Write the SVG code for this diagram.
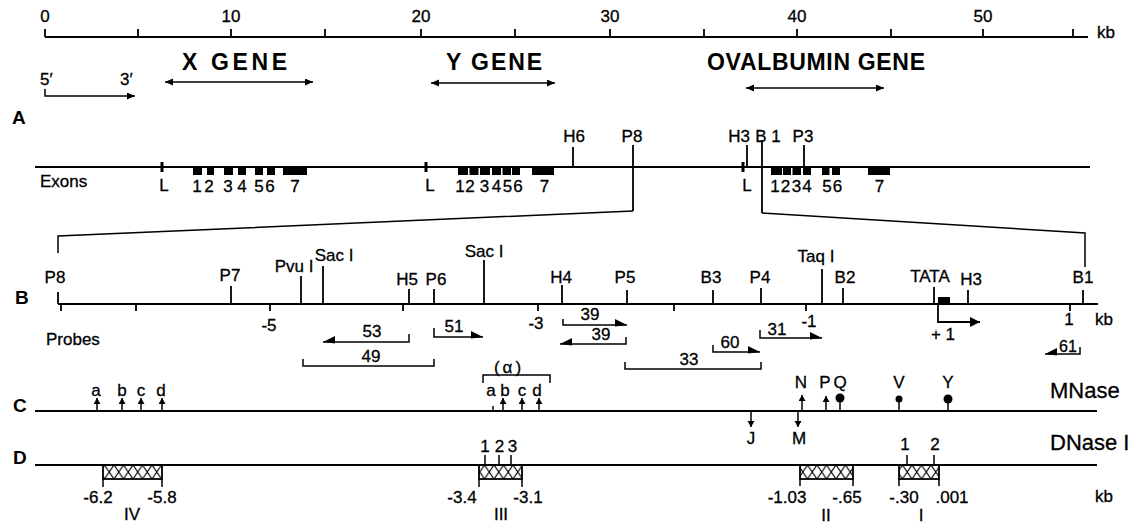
<svg xmlns="http://www.w3.org/2000/svg" width="1144" height="524" viewBox="0 0 1144 524">
<style>
.ln{stroke:#000;stroke-width:2;fill:none}
.tk{stroke:#000;stroke-width:1.8;fill:none}
.br{stroke:#000;stroke-width:1.5;fill:none}
.lt{stroke:#000;stroke-width:3;fill:none}
.t{font-family:"Liberation Sans",Arial,Helvetica,sans-serif;font-size:17px;fill:#000;stroke:#000;stroke-width:0.3}
.c{text-anchor:middle}
.pl{font-size:19px;font-weight:bold;stroke-width:0}
.g{font-size:23px;font-weight:bold;stroke-width:0}
.big{font-size:22px}
.ex{fill:#000}
.hb{fill:url(#hatch);stroke:#000;stroke-width:1.8}
</style>
<defs>
<marker id="ah" markerUnits="userSpaceOnUse" markerWidth="10" markerHeight="8" refX="8" refY="3.5" orient="auto-start-reverse">
<path d="M0,0 L8,3.5 L0,7 z" fill="#000"/>
</marker>
<marker id="pr" markerUnits="userSpaceOnUse" markerWidth="14" markerHeight="10" refX="12" refY="6" orient="0">
<path d="M0,0 L12,6 L0,7.5 z" fill="#000"/>
</marker>
<marker id="pl" markerUnits="userSpaceOnUse" markerWidth="14" markerHeight="10" refX="0" refY="6" orient="0">
<path d="M12,0 L0,6 L12,7.5 z" fill="#000"/>
</marker>
<marker id="sa" markerUnits="userSpaceOnUse" markerWidth="8" markerHeight="8" refX="6" refY="3.5" orient="auto">
<path d="M0,0 L6,3.5 L0,7 z" fill="#000"/>
</marker>
<marker id="ta" markerUnits="userSpaceOnUse" markerWidth="12" markerHeight="12" refX="10" refY="5" orient="auto">
<path d="M0,0 L10,5 L0,10 z" fill="#000"/>
</marker>
<pattern id="hatch" patternUnits="userSpaceOnUse" x="0" y="465" width="9.5" height="14">
<path d="M0,0 L9.5,14 M9.5,0 L0,14" stroke="#000" stroke-width="1.1"/>
</pattern>
</defs>

<g id="scale">
<path class="ln" d="M45,37 H1088"/>
<path class="tk" d="M45,29V37M138,29V37M231,29V37M325,29V37M421,29V37M515,29V37M610,29V37M704,29V37M797,29V37M891,29V37M983,29V37M1073,29V37"/>
<text class="t c" x="45" y="22">0</text>
<text class="t c" x="231" y="22">10</text>
<text class="t c" x="421" y="22">20</text>
<text class="t c" x="610" y="22">30</text>
<text class="t c" x="797" y="22">40</text>
<text class="t c" x="983" y="22">50</text>
<text class="t" x="1097" y="38">kb</text>
</g>

<g id="orientation">
<text class="t" x="40" y="85">5′</text>
<text class="t" x="120" y="85">3′</text>
<path class="br" d="M45,89 V96 H135" marker-end="url(#ah)"/>
</g>

<g id="genes">
<text class="t g" x="182" y="70" textLength="105" lengthAdjust="spacing">X GENE</text>
<path class="br" d="M165,82 H313" marker-start="url(#ah)" marker-end="url(#ah)"/>
<text class="t g" x="446" y="70" textLength="96" lengthAdjust="spacing">Y GENE</text>
<path class="br" d="M431,83 H555" marker-start="url(#ah)" marker-end="url(#ah)"/>
<text class="t g" x="707" y="70" textLength="218" lengthAdjust="spacing">OVALBUMIN GENE</text>
<path class="br" d="M746,88 H884" marker-start="url(#ah)" marker-end="url(#ah)"/>
</g>

<g id="panelA">
<text class="t pl" x="12" y="124">A</text>
<path class="ln" d="M35,167 H1090"/>
<text class="t" x="40" y="187">Exons</text>
<path class="lt" d="M162,162V172M426,162V172M743,162V172"/>
<g class="ex">
<rect x="193" y="167" width="9" height="8"/><rect x="207" y="167" width="7" height="8"/><rect x="224" y="167" width="9" height="8"/><rect x="238" y="167" width="8" height="8"/><rect x="255" y="167" width="8" height="8"/><rect x="267" y="167" width="8" height="8"/><rect x="283" y="167" width="24" height="8"/>
<rect x="458" y="167" width="10" height="8"/><rect x="469.5" y="167" width="9" height="8"/><rect x="480" y="167" width="10" height="8"/><rect x="492" y="167" width="9" height="8"/><rect x="502.5" y="167" width="8.5" height="8"/><rect x="512" y="167" width="8" height="8"/><rect x="532" y="167" width="22" height="8"/>
<rect x="771" y="167" width="11" height="8"/><rect x="783" y="167" width="8" height="8"/><rect x="792.5" y="167" width="8.5" height="8"/><rect x="803" y="167" width="8" height="8"/><rect x="822" y="167" width="7.5" height="8"/><rect x="832" y="167" width="8" height="8"/><rect x="868" y="167" width="22" height="8"/>
</g>
<g class="t c">
<text x="164" y="191">L</text>
<text x="197" y="192">1</text><text x="209" y="192">2</text><text x="228" y="192">3</text><text x="242" y="192">4</text><text x="259" y="192">5</text><text x="270" y="192">6</text><text x="295" y="192">7</text>
<text x="430" y="191">L</text>
<text x="460" y="192">1</text><text x="470" y="192">2</text><text x="484.5" y="192">3</text><text x="496.5" y="192">4</text><text x="507.5" y="192">5</text><text x="518" y="192">6</text><text x="544.5" y="192">7</text>
<text x="747" y="191">L</text>
<text x="775" y="192">1</text><text x="785.5" y="192">2</text><text x="796.5" y="192">3</text><text x="807" y="192">4</text><text x="827" y="192">5</text><text x="837.5" y="192">6</text><text x="879.5" y="192">7</text>
</g>
<path class="tk" d="M573,147V167M633,145V211M747,145V167M762,140V213M804,145V167"/>
<g class="t c">
<text x="574" y="142">H6</text>
<text x="632" y="142">P8</text>
<text x="739" y="142">H3</text>
<text x="768" y="142">B 1</text>
<text x="803" y="142">P3</text>
</g>
</g>

<g id="expansion">
<path class="br" d="M58,253 V236 L633,211"/>
<path class="br" d="M762,213 L1085,233 V267"/>
</g>

<g id="panelB">
<text class="t pl" x="15" y="304">B</text>
<path class="ln" d="M58,304 H1098"/>
<path class="tk" d="M58,292V304M231,286V304M301,276V304M323,266V304M409,289V304M434,289V304M484,260V304M562,285V304M627,290V304M713,290V304M761,288V304M822,269V304M843,288V304M934,287V304M968,290V304M1083,290V304"/>
<path class="tk" d="M61,304V311M136,304V311M270,304V311M403,304V311M538,304V311M674,304V311M806,304V311M1070,304V311"/>
<rect x="938" y="297" width="12" height="7" fill="#000"/>
<path class="tk" d="M938,304 V322 H980" marker-end="url(#ta)"/>
<g class="t c">
<text x="55" y="283">P8</text>
<text x="230" y="281">P7</text>
<text x="294" y="272">Pvu I</text>
<text x="334" y="261">Sac I</text>
<text x="407" y="285">H5</text>
<text x="436" y="285">P6</text>
<text x="484" y="257">Sac I</text>
<text x="561" y="283">H4</text>
<text x="625" y="283">P5</text>
<text x="711" y="283">B3</text>
<text x="760" y="283">P4</text>
<text x="816" y="262">Taq I</text>
<text x="845" y="283">B2</text>
<text x="930" y="282">TATA</text>
<text x="971" y="285">H3</text>
<text x="1083" y="283">B1</text>
<text x="269" y="331">-5</text>
<text x="536" y="329">-3</text>
<text x="809" y="327">-1</text>
<text x="1069" y="325">1</text>
<text x="943" y="340">+ 1</text>
</g>
<text class="t" x="1095" y="325">kb</text>
</g>

<g id="probes">
<text class="t" x="46" y="345">Probes</text>
<path class="br" d="M409,334 V342 H323" marker-end="url(#pl)"/>
<path class="br" d="M303,359 V366 H434 V359"/>
<path class="br" d="M434,328 V337 H483" marker-end="url(#pr)"/>
<path class="br" d="M563,319 V325 H627" marker-end="url(#pr)"/>
<path class="br" d="M626,337 V344 H560" marker-end="url(#pl)"/>
<path class="br" d="M625,362 V369 H761 V362"/>
<path class="br" d="M713,345 V352 H760" marker-end="url(#pr)"/>
<path class="br" d="M760,330 V338 H822" marker-end="url(#pr)"/>
<path class="br" d="M1080,347 V354 H1045" marker-end="url(#pl)"/>
<g class="t c">
<text x="372" y="337">53</text>
<text x="371" y="362">49</text>
<text x="454" y="332">51</text>
<text x="590" y="320">39</text>
<text x="601" y="340">39</text>
<text x="689" y="365">33</text>
<text x="730" y="348">60</text>
<text x="777" y="335">31</text>
<text x="1068" y="352" style="font-size:16px">61</text>
</g>
</g>

<g id="panelC">
<text class="t pl" x="13" y="412">C</text>
<path class="ln" d="M35,411 H1097"/>
<text class="t big" x="1050" y="398">MNase</text>
<g class="br">
<path d="M97,411V398" marker-end="url(#sa)"/><path d="M122,411V398" marker-end="url(#sa)"/><path d="M141,411V398" marker-end="url(#sa)"/><path d="M162,411V398" marker-end="url(#sa)"/>
<path d="M503,411V398" marker-end="url(#sa)"/><path d="M522,411V398" marker-end="url(#sa)"/><path d="M539,411V398" marker-end="url(#sa)"/>
<path d="M802,411V395" marker-end="url(#sa)"/><path d="M826,411V396" marker-end="url(#sa)"/>
<path d="M751,411V427" marker-end="url(#sa)"/><path d="M798,411V427" marker-end="url(#sa)"/>
<path d="M493,406V411"/>
<path d="M483,383V375H550V383"/>
<path d="M840,398V411M899,399V411M948,399V411"/>
</g>
<circle cx="840" cy="398" r="4.5" fill="#000"/>
<circle cx="899" cy="399" r="3.5" fill="#000"/>
<circle cx="948" cy="399" r="4.5" fill="#000"/>
<g class="t c">
<text x="96" y="396">a</text><text x="122" y="396">b</text><text x="141" y="396">c</text><text x="161" y="396">d</text>
<text x="509" y="373" letter-spacing="3">(α)</text>
<text x="491" y="396">a</text><text x="505" y="396">b</text><text x="522" y="396">c</text><text x="537" y="396">d</text>
<text x="801" y="388">N</text><text x="825" y="388">P</text><text x="840" y="388">Q</text><text x="899" y="388">V</text><text x="948" y="388">Y</text>
<text x="751" y="444">J</text><text x="799" y="444">M</text>
</g>
</g>

<g id="panelD">
<text class="t pl" x="13" y="464">D</text>
<path class="ln" d="M35,465 H1097"/>
<text class="t big" x="1050" y="450">DNase I</text>
<rect class="hb" x="103" y="465" width="59" height="14"/>
<rect class="hb" x="479" y="465" width="43" height="14"/>
<rect class="hb" x="800" y="465" width="53" height="14"/>
<rect class="hb" x="899" y="465" width="40" height="14"/>
<path class="br" d="M103,479V487M162,479V487M479,479V487M522,479V487M800,479V486M853,479V486M899,479V486M939,479V486"/>
<path class="br" d="M485,455V465M499,455V465M511,455V465M907,455V465M934,455V465"/>
<g class="t c">
<text x="485" y="452">1</text><text x="499.5" y="452">2</text><text x="512.5" y="452">3</text>
<text x="905" y="450">1</text><text x="935" y="450">2</text>
<text x="98" y="503">-6.2</text><text x="162" y="503">-5.8</text><text x="132" y="520">IV</text>
<text x="462" y="503">-3.4</text><text x="528" y="503">-3.1</text><text x="501" y="520">III</text>
<text x="787" y="503">-1.03</text><text x="847" y="503">-.65</text><text x="826" y="521">II</text>
<text x="904" y="503">-.30</text><text x="952" y="503">.001</text><text x="921" y="521">I</text>
</g>
<text class="t" x="1095" y="502">kb</text>
</g>
</svg>
